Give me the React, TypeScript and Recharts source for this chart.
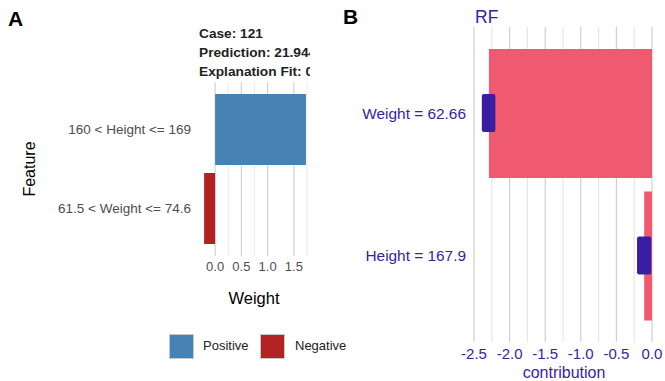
import React from 'react';
import { BarChart, Bar, XAxis, YAxis, CartesianGrid, Cell } from 'recharts';

// panel A: LIME explanation
const limeFeatures = ['160 < Height <= 169', '61.5 < Weight <= 74.6'];
const limeWeights = [1.73, -0.21];
const limeTicks = [0, 0.5, 1, 1.5];
const limeMajorGrid = [0, 0.5, 1, 1.5];
const limeMinorGrid = [-0.25, 0.25, 0.75, 1.25, 1.75];

// panel B: SHAP contributions (RF)
const shapFeatures = ['Weight = 62.66', 'Height = 167.9'];
const shapMeans = [-2.29, -0.11];
const shapBoxLow = [-2.39, -0.21];
const shapBoxHigh = [-2.2, -0.01];
const shapTicks = [-2.5, -2, -1.5, -1, -0.5, 0];
const shapMajorGrid = [-2.5, -2, -1.5, -1, -0.5, 0];
const shapMinorGrid = [-2.25, -1.75, -1.25, -0.75, -0.25];

const FONT = '"Liberation Sans", Arial, sans-serif';
const BLUE = '#4682b4';
const RED = '#b22222';
const PINK = '#f05a71';
const PURPLE = '#371ea3';

const limeData = limeFeatures.map((f, i) => ({ feature: f, weight: limeWeights[i] }));
const shapData = shapFeatures.map((f, i) => ({
  feature: f,
  mean: shapMeans[i],
  box: [shapBoxLow[i], shapBoxHigh[i]],
}));

const abs = (s: React.CSSProperties): React.CSSProperties => ({ position: 'absolute', ...s });

export default function App() {
  return (
    <div style={abs({ left: 0, top: 0, width: 665, height: 381, background: '#fff', fontFamily: FONT, overflow: 'hidden' })}>
      {/* Panel A */}
      <div style={abs({ left: 8, top: 7, fontSize: 21, fontWeight: 'bold', color: '#000' })}>A</div>
      {/* the panel clips the subtitle on the right, as in the original */}
      <div style={abs({ left: 199, top: 24, width: 111, overflow: 'hidden', whiteSpace: 'nowrap', fontSize: 13.7, fontWeight: 'bold', color: '#222', lineHeight: '19px' })}>
        <div>Case: 121</div>
        <div>Prediction: 21.944</div>
        <div>Explanation Fit: 0.01</div>
      </div>
      <div style={abs({ left: 0, top: 0 })}>
        <BarChart width={310} height={290} data={limeData} layout="vertical"
          margin={{ top: 82, right: 3, bottom: 0, left: 0 }} style={{ fontFamily: FONT }}>
          <CartesianGrid horizontal={false} verticalValues={limeMinorGrid} stroke="#ebebeb" strokeWidth={1} />
          <CartesianGrid horizontal={false} verticalValues={limeMajorGrid} stroke="#d2d2d2" strokeWidth={1.2} />
          <XAxis type="number" domain={[-0.25, 1.75]} ticks={limeTicks} allowDataOverflow
            axisLine={false} tickLine={false} tickSize={0} tickMargin={6} height={34}
            tickFormatter={(v: number) => v.toFixed(1)}
            tick={{ fill: '#4d4d4d', fontSize: 13 }} />
          <YAxis type="category" dataKey="feature" width={202} padding={{ top: 8, bottom: 8 }}
            axisLine={false} tickLine={false} tickSize={0} tickMargin={11}
            tick={{ fill: '#4d4d4d', fontSize: 13.5 }} />
          <Bar dataKey="weight" barSize={71} isAnimationActive={false}>
            {limeData.map((d, i) => (
              <Cell key={i} fill={d.weight >= 0 ? BLUE : RED} />
            ))}
          </Bar>
        </BarChart>
      </div>
      <div style={abs({ left: 30, top: 169, fontSize: 16, color: '#000', transform: 'translate(-50%, -50%) rotate(-90deg)', whiteSpace: 'nowrap' })}>Feature</div>
      <div style={abs({ left: 254, top: 298, fontSize: 16.5, color: '#000', transform: 'translate(-50%, -50%)', whiteSpace: 'nowrap' })}>Weight</div>
      {/* legend */}
      <div style={abs({ left: 169, top: 334, width: 23, height: 23, background: BLUE, border: '1px solid #c8c8c8' })} />
      <div style={abs({ left: 203, top: 338, fontSize: 13, color: '#222' })}>Positive</div>
      <div style={abs({ left: 260, top: 334, width: 23, height: 23, background: RED, border: '1px solid #c8c8c8' })} />
      <div style={abs({ left: 295, top: 338, fontSize: 13, color: '#222' })}>Negative</div>

      {/* Panel B */}
      <div style={abs({ left: 343, top: 5, fontSize: 21, fontWeight: 'bold', color: '#000' })}>B</div>
      <div style={abs({ left: 475, top: 7, fontSize: 17.5, color: PURPLE })}>RF</div>
      <div style={abs({ left: 330, top: 0 })}>
        <BarChart width={335} height={370} data={shapData} layout="vertical"
          margin={{ top: 27, right: 13, bottom: 0, left: 0 }} style={{ fontFamily: FONT }}>
          <CartesianGrid horizontal={false} verticalValues={shapMinorGrid} stroke="#e6e6e6" strokeWidth={1.2} />
          <CartesianGrid horizontal={false} verticalValues={shapMajorGrid} stroke="#d0d0d0" strokeWidth={1.2} />
          <XAxis type="number" domain={[-2.5, 0]} ticks={shapTicks} allowDataOverflow
            axisLine={false} tickLine={false} tickSize={0} tickMargin={6} height={28}
            tickFormatter={(v: number) => v.toFixed(1)}
            tick={{ fill: PURPLE, fontSize: 15 }} />
          <YAxis yAxisId="mean" type="category" dataKey="feature" width={144} padding={{ top: 15, bottom: 15 }}
            axisLine={false} tickLine={false} tickSize={0} tickMargin={8}
            tick={{ fill: PURPLE, fontSize: 15.4 }} />
          <YAxis yAxisId="box" type="category" dataKey="feature" width={0} hide padding={{ top: 15, bottom: 15 }} />
          <Bar yAxisId="mean" dataKey="mean" barSize={129} fill={PINK} isAnimationActive={false} />
          <Bar yAxisId="box" dataKey="box" barSize={38} fill={PURPLE} radius={2} isAnimationActive={false} />
        </BarChart>
      </div>
      <div style={abs({ left: 564, top: 373, fontSize: 16, color: PURPLE, transform: 'translate(-50%, -50%)', whiteSpace: 'nowrap' })}>contribution</div>
    </div>
  );
}
